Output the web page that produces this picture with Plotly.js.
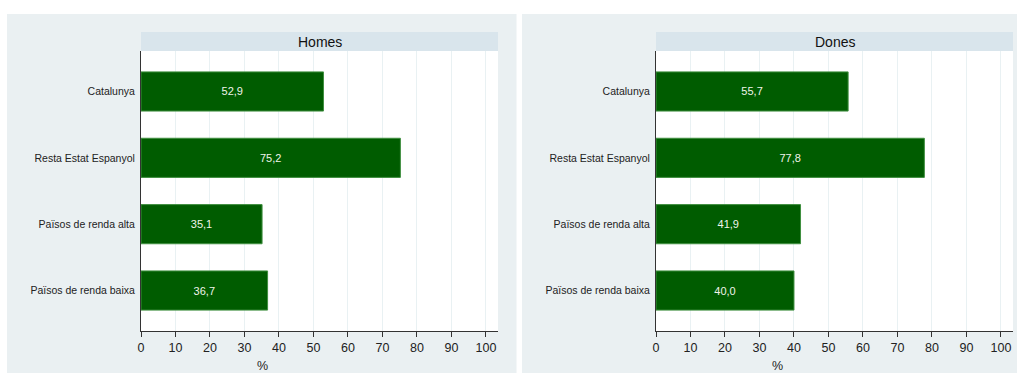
<!DOCTYPE html>
<html><head><meta charset="utf-8">
<script src="https://cdn.plot.ly/plotly-3.0.1.min.js"></script>
<style>html,body{margin:0;padding:0;background:#fff}#chart{width:1017px;height:374px}</style>
</head><body><div id="chart"></div>
<script>
const categories = ["Catalunya", "Resta Estat Espanyol", "Països de renda alta", "Països de renda baixa"];
const homesValues = [52.9, 75.2, 35.1, 36.7];
const donesValues = [55.7, 77.8, 41.9, 40.0];
const panelTitles = ["Homes", "Dones"];
const axisTitle = "%";
const xTicks = [0,10,20,30,40,50,60,70,80,90,100];

(function(){
const W = 1017, H = 374;
const px = x => x / W;
const py = y => (H - y) / H;

const fmt = v => v.toFixed(1).replace('.', ',');
const barColor = '#005c00';
const lineColor = '#3f8f3f';
const FONT = 'Liberation Sans, Arial, sans-serif';

function barTrace(vals, xa, ya) {
  return {
    type: 'bar', orientation: 'h', x: vals, y: categories,
    xaxis: xa, yaxis: ya, width: 0.59,
    marker: {color: barColor, line: {color: lineColor, width: 1}},
    text: vals.map(fmt), textposition: 'inside', insidetextanchor: 'middle',
    textfont: {color: '#f0f4ea', size: 11, family: FONT},
    hoverinfo: 'x+y', cliponaxis: false
  };
}

const data = [barTrace(homesValues, 'x', 'y'), barTrace(donesValues, 'x2', 'y2')];

const L = [141, 498], R = [656, 1013];
const pTop = 51, pBot = 331;

function xAxis(dom, yanchor) {
  return {
    domain: [px(dom[0]), px(dom[1])], anchor: yanchor, range: [0, 103.5],
    tickvals: xTicks, ticktext: xTicks.map(String),
    showgrid: true, gridcolor: '#e9f1f3', gridwidth: 1, zeroline: false,
    showline: true, linecolor: '#333', linewidth: 1,
    ticks: 'outside', ticklen: 5, tickcolor: '#333',
    tickfont: {size: 12.5, color: '#222', family: FONT},
    fixedrange: true
  };
}
function yAxis(xanchor) {
  return {
    domain: [py(pBot), py(pTop)], anchor: xanchor, range: [3.61, -0.61],
    type: 'category', showgrid: false, zeroline: false,
    showline: true, linecolor: '#333', linewidth: 1,
    ticks: '', ticklabelstandoff: 3,
    tickfont: {size: 10.5, color: '#222', family: FONT},
    fixedrange: true
  };
}

const shapes = [
  {type: 'rect', xref: 'paper', yref: 'paper', x0: px(7), x1: px(516.5), y0: py(373), y1: py(14), fillcolor: '#eaf0f2', line: {width: 0}, layer: 'below'},
  {type: 'rect', xref: 'paper', yref: 'paper', x0: px(522), x1: px(1017), y0: py(373), y1: py(14), fillcolor: '#eaf0f2', line: {width: 0}, layer: 'below'},
  {type: 'rect', xref: 'paper', yref: 'paper', x0: px(L[0]), x1: px(L[1]), y0: py(pBot), y1: py(pTop), fillcolor: '#ffffff', line: {width: 0}, layer: 'below'},
  {type: 'rect', xref: 'paper', yref: 'paper', x0: px(R[0]), x1: px(R[1]), y0: py(pBot), y1: py(pTop), fillcolor: '#ffffff', line: {width: 0}, layer: 'below'},
  {type: 'rect', xref: 'paper', yref: 'paper', x0: px(L[0]), x1: px(L[1]), y0: py(pTop), y1: py(32), fillcolor: '#d9e5ec', line: {width: 0}, layer: 'below'},
  {type: 'rect', xref: 'paper', yref: 'paper', x0: px(R[0]), x1: px(R[1]), y0: py(pTop), y1: py(32), fillcolor: '#d9e5ec', line: {width: 0}, layer: 'below'}
];

const annotations = [
  {xref: 'paper', yref: 'paper', x: px((L[0]+L[1])/2), y: py(41.5), text: panelTitles[0], showarrow: false,
   font: {size: 14, color: '#111', family: FONT}, xanchor: 'center', yanchor: 'middle'},
  {xref: 'paper', yref: 'paper', x: px((R[0]+R[1])/2), y: py(41.5), text: panelTitles[1], showarrow: false,
   font: {size: 14, color: '#111', family: FONT}, xanchor: 'center', yanchor: 'middle'},
  {xref: 'paper', yref: 'paper', x: px(262), y: py(365.5), text: axisTitle, showarrow: false,
   font: {size: 12.5, color: '#222', family: FONT}, xanchor: 'center', yanchor: 'middle'},
  {xref: 'paper', yref: 'paper', x: px(777), y: py(365.5), text: axisTitle, showarrow: false,
   font: {size: 12.5, color: '#222', family: FONT}, xanchor: 'center', yanchor: 'middle'}
];

const layout = {
  width: W, height: H, margin: {l: 0, r: 0, t: 0, b: 0},
  paper_bgcolor: '#ffffff', plot_bgcolor: 'rgba(0,0,0,0)',
  showlegend: false,
  xaxis: xAxis(L, 'y'), yaxis: yAxis('x'),
  xaxis2: xAxis(R, 'y2'), yaxis2: yAxis('x2'),
  shapes: shapes, annotations: annotations,
  font: {family: FONT}
};

Plotly.newPlot('chart', data, layout, {displayModeBar: false, staticPlot: true});
})();
</script></body></html>
